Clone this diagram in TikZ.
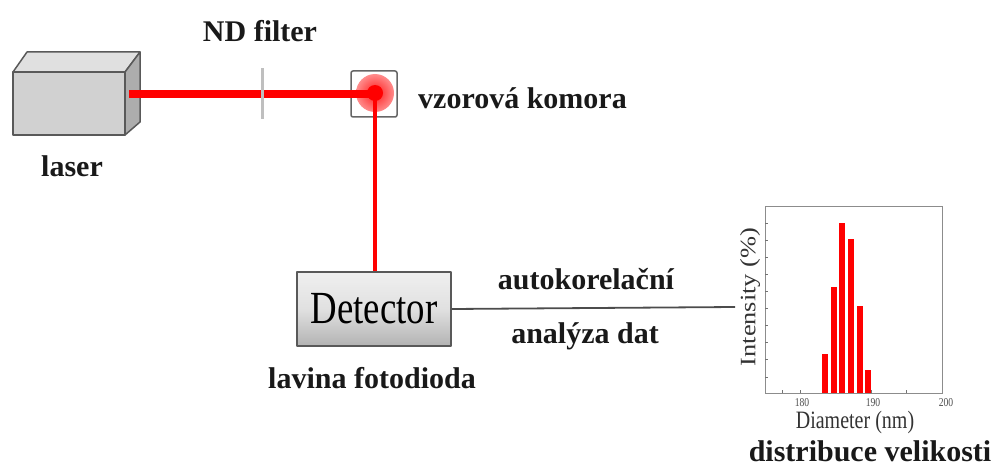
\documentclass[tikz,border=0pt]{standalone}
\usepackage{fontspec}
\setmainfont{Liberation Serif}
\usetikzlibrary{calc}
\begin{document}
\begin{tikzpicture}[x=1pt,y=-1pt,
  lbl/.style={font=\fontsize{30}{34}\selectfont\bfseries, text=black!90, inner sep=0pt},
  beam/.style={draw=red, line width=8pt},
  thinbeam/.style={draw=red, line width=3.5pt},
  edgegray/.style={draw=black!65, line width=1.5pt, line join=round},
  tick/.style={draw=black!55, line width=0.8pt},
  ticklbl/.style={font=\fontsize{12}{12}\selectfont, text=black!70, inner sep=0pt}]
\useasboundingbox (0,0) rectangle (993,468);

% laser housing drawn as a small 3D box
\filldraw[edgegray, fill=black!12] (13,72) -- (27,52) -- (140,52) -- (125,72) -- cycle;
\filldraw[edgegray, fill=black!32] (125,72) -- (140,52) -- (140,122) -- (125,135) -- cycle;
\filldraw[edgegray, fill=black!18] (13,72) rectangle (125,135);
\coordinate (aperture) at (129,94);
\node[lbl] (laserlbl) at (72,166) {laser};

% sample cell with the scattering spot
\node[draw=black!60, line width=1.5pt, rounded corners=2pt, fill=white,
      minimum width=46pt, minimum height=46pt, inner sep=0pt] (cell) at (374,94) {};
\coordinate (spot) at (375,93);
\begin{scope}
  \clip (spot) circle (19);
  \shade[inner color=red!90, outer color=white] (spot) circle (38);
\end{scope}
\node[lbl, anchor=west] (celllbl) at (418,98) {vzorová komora};

% beam from the laser, crossed by the neutral density filter
\draw[beam] (aperture) -- (aperture -| spot);
\node[inner sep=0pt, minimum width=3pt, minimum height=51pt, fill=black!25] (filter) at (262,94) {};
\node[lbl] (filterlbl) at (260,31) {ND filter};

% detector
\node[edgegray, top color=black!6, bottom color=black!30, middle color=black!12,
      minimum width=154pt, minimum height=74pt, inner sep=0pt] (det) at (374,309)
      {\scalebox{0.8}[1]{\fontsize{46}{46}\selectfont Detector}};
\draw[thinbeam] (spot) -- (det.north -| spot);
\fill[red] (spot) circle (8);
\node[lbl] (detlbl) at (372,378) {lavina fotodioda};

% signal line to the analysis
\coordinate (dataend) at (735,307);
\draw[draw=black!70, line width=1.8pt] (det.east) -- (dataend);
\node[lbl] (acflbl) at (586,279) {autokorelační};
\node[lbl] (analbl) at (585,336) {analýza dat};

% size distribution chart
\begin{scope}
  \node[draw=black!45, line width=1pt, minimum width=177pt, minimum height=187pt,
        inner sep=0pt] (chart) at (853.5,299.5) {};
  % x scale: 175 nm at 765, 200 nm at 942
  \foreach \d in {177.5,180,185,190,195}
    \draw[tick] ({765+(\d-175)*7.08},393) -- ++(0,-3);
  \foreach \k in {0,...,9}
    \draw[tick] (765,{223+\k*17.1}) -- ++(3,0);
  \foreach \l/\y in {183.5/354,184.7/287,185.9/223,187.1/239,188.4/306,189.6/370}
    \fill[red] ({765+(\l-175)*7.08-3},\y) rectangle ++(6,{393-\y});
  \node[ticklbl] (t180) at (802,403) {\scalebox{0.8}[1]{180}};
  \node[ticklbl] (t190) at (873,403) {\scalebox{0.8}[1]{190}};
  \node[ticklbl] (t200) at (946,403) {\scalebox{0.8}[1]{200}};
  \node[inner sep=0pt, text=black!80, rotate=90] (ylbl) at (750,297)
    {\scalebox{1.2}[1]{\fontsize{22}{22}\selectfont Intensity (\%)}};
  \node[inner sep=0pt, text=black!80] (xlbl) at (855,422)
    {\scalebox{0.8}[1]{\fontsize{25}{25}\selectfont Diameter (nm)}};
\end{scope}
\node[lbl] (distlbl) at (870,451) {distribuce velikosti};
\end{tikzpicture}
\end{document}
